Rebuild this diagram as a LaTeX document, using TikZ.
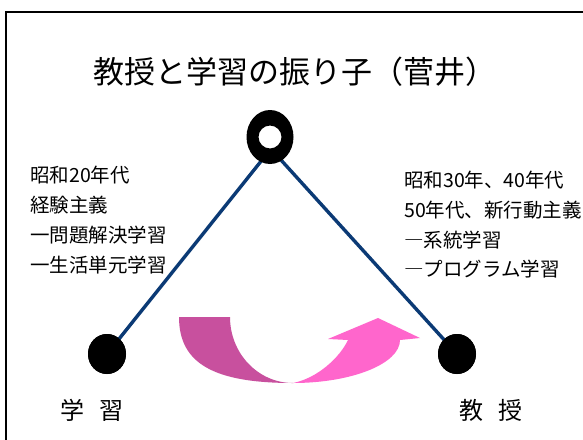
\documentclass[tikz,border=0pt]{standalone}
\usepackage{fontspec}
\newfontfamily\jp{Noto Sans CJK JP}
\usetikzlibrary{shapes.geometric}
\definecolor{rodblue}{HTML}{0B3A75}
\definecolor{pinkdark}{HTML}{C8509E}
\definecolor{pinklight}{HTML}{FF66CC}
\begin{document}
\begin{tikzpicture}[x=1pt,y=-1pt,
  bob/.style={ellipse,fill=black,minimum width=38pt,minimum height=40pt,inner sep=0pt},
  rod/.style={draw=rodblue,line width=3.4pt},
  lbl/.style={font=\jp\fontsize{19.5pt}{22pt}\selectfont,anchor=west,inner sep=0pt},
  endlbl/.style={font=\jp\fontsize{24pt}{27pt}\selectfont,inner sep=0pt},
  frame/.style={draw=black,line width=2.6pt}]
\useasboundingbox (0,0) rectangle (583,439);
\fill[white] (0,0) rectangle (583,439);
\draw[frame] (6,450) -- (6,12) -- (595,12);
% title
\node[font=\jp\fontsize{31pt}{34pt}\selectfont,inner sep=0pt] (title) at (295,72) {教授と学習の振り子（菅井）};
% pendulum
\coordinate (pivot) at (270,137);
\coordinate (ringL) at (262,160);
\coordinate (ringR) at (281,160);
\node[bob] (lbob) at (107,354) {};
\node[bob] (rbob) at (457,354) {};
\draw[rod] (ringL) -- (lbob.center);
\draw[rod] (ringR) -- (rbob.center);
\node[bob] at (lbob) {};
\node[bob] at (rbob) {};
\fill[black,even odd rule] (pivot) ellipse [x radius=23.5pt, y radius=27pt] (pivot) circle [radius=11.5pt];
% left texts
\node[lbl] (l1) at (30,175) {昭和20年代};
\node[lbl] (l2) at (30,205) {経験主義};
\node[lbl] (l3) at (30,235) {一問題解決学習};
\node[lbl] (l4) at (30,265) {一生活単元学習};
% right texts
\node[lbl] (r1) at (404,180) {昭和30年、40年代};
\node[lbl] (r2) at (404,210) {50年代、新行動主義};
\node[lbl] (r3) at (404,240) {―系統学習};
\node[lbl] (r4) at (404,269) {―プログラム学習};
% end labels
\node[endlbl] (learn) at (92,410) {学\hspace{16pt}習};
\node[endlbl] (teach) at (491,410) {教\hspace{16pt}授};
% curved arrow
\fill[pinkdark] (179,317) .. controls (179,363.2) and (213.2,383) .. (293,383)
  .. controls (258.2,383) and (230,353.5) .. (230,317) -- cycle;
\fill[pinklight] (293,383) .. controls (352,383) and (400,363.7) .. (400,340)
  -- (420,338) -- (378,318) -- (328,339) -- (348,340)
  .. controls (340,357) and (318,378) .. (293,383) -- cycle;
\end{tikzpicture}
\end{document}
